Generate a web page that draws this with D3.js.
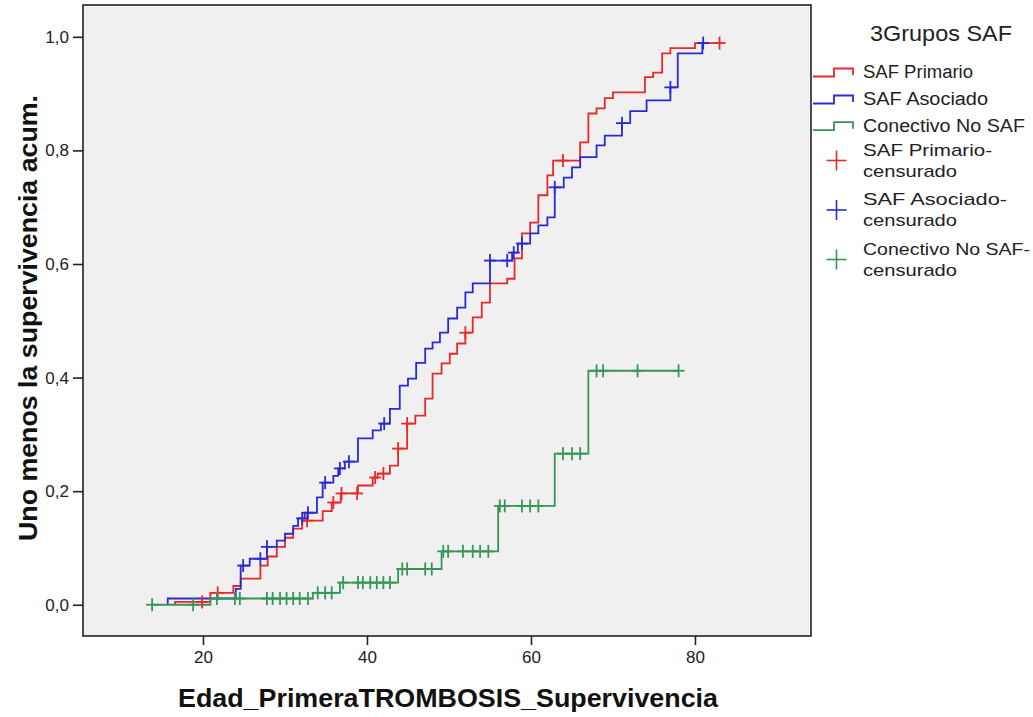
<!DOCTYPE html>
<html>
<head>
<meta charset="utf-8">
<script src="https://cdn.jsdelivr.net/npm/d3@7"></script>
<style>
  html, body { margin: 0; padding: 0; background: #ffffff; }
  svg { display: block; font-family: "Liberation Sans", Arial, sans-serif; }
</style>
</head>
<body>
<svg id="chart" width="1033" height="717"></svg>
<script>
// ---------------- DATA ----------------
const yTickValues = [0, 0.2, 0.4, 0.6, 0.8, 1.0];
const xTickValues = [20, 40, 60, 80];

const seriesNames = ["SAF Primario", "SAF Asociado", "Conectivo No SAF"];
const censorNames = ["SAF Primario-|censurado", "SAF Asociado-|censurado", "Conectivo No SAF-|censurado"];

// SAF Primario: event times and cumulative (1 - survival)
const primarioTimes  = [16.6, 20.9, 23.7, 24.6, 27.0, 27.9, 29.0, 30.0, 31.0, 32.1, 34.6, 35.7, 36.8, 38.9, 40.7, 41.3, 42.8, 43.8, 44.9, 45.9, 47.1, 48.0, 49.1, 50.1, 51.0, 52.0, 52.9, 54.0, 55.0, 57.1, 58.0, 58.9, 59.9, 60.9, 62.0, 62.7, 66.0, 67.0, 68.0, 69.0, 70.0, 73.9, 74.9, 76.0, 77.0, 80.0];
const primarioValues = [0.005, 0.021, 0.033, 0.046, 0.069, 0.085, 0.102, 0.118, 0.134, 0.148, 0.165, 0.180, 0.196, 0.210, 0.224, 0.231, 0.245, 0.275, 0.319, 0.333, 0.363, 0.407, 0.425, 0.442, 0.460, 0.479, 0.506, 0.532, 0.566, 0.574, 0.610, 0.654, 0.673, 0.721, 0.756, 0.782, 0.814, 0.865, 0.874, 0.892, 0.902, 0.929, 0.937, 0.971, 0.980, 0.989];
const primarioCensored = [19.9, 21.8, 32.7, 35.9, 36.9, 38.8, 41.0, 42.0, 43.8, 44.9, 52.0, 63.9, 83.0];

// SAF Asociado
const asociadoTimes  = [15.7, 24.0, 24.6, 25.7, 27.8, 29.0, 30.0, 31.0, 31.6, 32.4, 33.9, 34.6, 35.9, 36.5, 37.3, 38.9, 40.7, 41.7, 42.8, 44.0, 45.0, 46.0, 47.1, 48.0, 48.9, 49.9, 51.0, 52.0, 52.9, 55.0, 57.7, 58.4, 59.9, 60.9, 62.0, 62.9, 64.0, 65.0, 66.0, 68.0, 69.0, 71.1, 72.1, 74.1, 77.0, 77.9, 80.9];
const asociadoValues = [0.011, 0.028, 0.069, 0.081, 0.102, 0.113, 0.125, 0.139, 0.152, 0.162, 0.189, 0.215, 0.227, 0.240, 0.252, 0.293, 0.307, 0.319, 0.345, 0.386, 0.398, 0.426, 0.451, 0.462, 0.479, 0.504, 0.523, 0.550, 0.566, 0.606, 0.620, 0.636, 0.654, 0.668, 0.682, 0.735, 0.752, 0.770, 0.788, 0.809, 0.826, 0.848, 0.869, 0.888, 0.911, 0.971, 0.989];
const asociadoCensored = [24.9, 27.0, 27.8, 32.1, 32.8, 34.9, 36.7, 37.8, 42.1, 55.0, 57.1, 57.9, 58.9, 62.9, 71.1, 77.0, 81.0];

// Conectivo No SAF
const conectivoTimes  = [20.9, 33.4, 36.7, 43.8, 49.1, 56.0, 62.9, 67.0];
const conectivoValues = [0.011, 0.021, 0.039, 0.063, 0.094, 0.174, 0.266, 0.412];
const conectivoCensored = [13.8, 18.8, 21.7, 23.9, 24.5, 27.8, 28.5, 29.4, 30.2, 31.0, 31.8, 32.8, 34.0, 34.9, 35.7, 37.1, 38.9, 39.5, 40.4, 41.2, 42.0, 42.8, 44.3, 44.9, 47.1, 47.9, 49.3, 49.9, 51.7, 52.9, 53.8, 54.8, 56.2, 56.8, 58.9, 59.9, 60.9, 63.9, 65.0, 66.0, 68.0, 68.8, 73.0, 78.0];

const seriesColors = ["#e8292b", "#2a2ad4", "#38955a"];

// ---------------- LAYOUT ----------------
const svg = d3.select("#chart");
const plot = { left: 83, top: 5, right: 811, bottom: 636 };

const x = d3.scaleLinear().domain([5.37, 94.15]).range([plot.left, plot.right]);
const y = d3.scaleLinear().domain([-0.055, 1.056]).range([plot.bottom, plot.top]);

svg.append("rect")
  .attr("x", plot.left).attr("y", plot.top)
  .attr("width", plot.right - plot.left).attr("height", plot.bottom - plot.top)
  .attr("fill", "#f0f0f0");

svg.append("clipPath").attr("id", "clip").append("rect")
  .attr("x", plot.left).attr("y", plot.top)
  .attr("width", plot.right - plot.left).attr("height", plot.bottom - plot.top);

// ---------------- SERIES ----------------
const series = [
  { times: primarioTimes, values: primarioValues, censored: primarioCensored, color: seriesColors[0] },
  { times: asociadoTimes, values: asociadoValues, censored: asociadoCensored, color: seriesColors[1] },
  { times: conectivoTimes, values: conectivoValues, censored: conectivoCensored, color: seriesColors[2] }
];

function levelAt(s, t) {
  let v = 0;
  for (let i = 0; i < s.times.length; i++) { if (s.times[i] <= t + 1e-9) v = s.values[i]; }
  return v;
}

const line = d3.line().x(d => x(d[0])).y(d => y(d[1])).curve(d3.curveStepAfter);

const gLines = svg.append("g").attr("clip-path", "url(#clip)");
series.forEach(s => {
  const start = Math.min(s.times[0], d3.min(s.censored));
  const end = Math.max(s.times[s.times.length - 1], d3.max(s.censored));
  const pts = [[start, 0]];
  s.times.forEach((t, i) => pts.push([t, s.values[i]]));
  pts.push([end, s.values[s.values.length - 1]]);
  gLines.append("path")
    .attr("d", line(pts))
    .attr("fill", "none")
    .attr("stroke", s.color)
    .attr("stroke-width", 1.8);
});

// censor marks
series.forEach(s => {
  const g = gLines.append("g").attr("stroke", s.color).attr("stroke-width", 1.8);
  s.censored.forEach(t => {
    const cx = x(t), cy = y(levelAt(s, t));
    g.append("line").attr("x1", cx - 6).attr("x2", cx + 6).attr("y1", cy).attr("y2", cy);
    g.append("line").attr("x1", cx).attr("x2", cx).attr("y1", cy - 6.5).attr("y2", cy + 6.5);
  });
});

// frame
svg.append("rect")
  .attr("x", plot.left).attr("y", plot.top)
  .attr("width", plot.right - plot.left).attr("height", plot.bottom - plot.top)
  .attr("fill", "none").attr("stroke", "#222").attr("stroke-width", 1.6);

// ---------------- AXES ----------------
const fmt = d => d3.format(".1f")(d).replace(".", ",");
const yAxis = svg.append("g")
  .attr("transform", `translate(${plot.left},0)`)
  .call(d3.axisLeft(y).tickValues(yTickValues).tickFormat(fmt).tickSize(10).tickPadding(4));
const xAxis = svg.append("g")
  .attr("transform", `translate(0,${plot.bottom})`)
  .call(d3.axisBottom(x).tickValues(xTickValues).tickFormat(d3.format("d")).tickSize(9).tickPadding(6));
[yAxis, xAxis].forEach(a => {
  a.select(".domain").remove();
  a.selectAll(".tick line").attr("stroke", "#222").attr("stroke-width", 1.6);
  a.selectAll(".tick text").attr("fill", "#222").style("font-size", "17px")
    .style("font-family", "'Liberation Sans', Arial, sans-serif");
});

// titles
svg.append("text")
  .attr("x", 448).attr("y", 707)
  .attr("text-anchor", "middle")
  .attr("textLength", 540).attr("lengthAdjust", "spacingAndGlyphs")
  .style("font-size", "26px").style("font-weight", "bold").attr("fill", "#111")
  .text("Edad_PrimeraTROMBOSIS_Supervivencia");

svg.append("text")
  .attr("transform", "translate(37,318) rotate(-90)")
  .attr("text-anchor", "middle")
  .attr("textLength", 446).attr("lengthAdjust", "spacingAndGlyphs")
  .style("font-size", "26px").style("font-weight", "bold").attr("fill", "#111")
  .text("Uno menos la supervivencia acum.");

// ---------------- LEGEND ----------------
const legend = svg.append("g");
legend.append("text")
  .attr("x", 870).attr("y", 41)
  .attr("textLength", 142).attr("lengthAdjust", "spacingAndGlyphs")
  .style("font-size", "22px").attr("fill", "#222")
  .text("3Grupos SAF");

const lineBaselines = [78, 105, 131.7];
const lineWidths = [110, 125, 162];
seriesNames.forEach((name, i) => {
  const b = lineBaselines[i];
  legend.append("path")
    .attr("d", `M813,${b - 1.5} H834 V${b - 9.5} H853 V${b - 3}`)
    .attr("fill", "none").attr("stroke", seriesColors[i]).attr("stroke-width", 1.8);
  legend.append("text")
    .attr("x", 863).attr("y", b)
    .attr("textLength", lineWidths[i]).attr("lengthAdjust", "spacingAndGlyphs")
    .style("font-size", "18px").attr("fill", "#222")
    .text(name);
});

const censorBaselines = [155.5, 205, 254.5];
const censorWidths = [129, 144, 167];
censorNames.forEach((name, i) => {
  const b = censorBaselines[i];
  const parts = name.split("|");
  const cy = b + 5, cx = 836.5;
  legend.append("line").attr("x1", cx - 10).attr("x2", cx + 10).attr("y1", cy).attr("y2", cy)
    .attr("stroke", seriesColors[i]).attr("stroke-width", 1.6);
  legend.append("line").attr("x1", cx).attr("x2", cx).attr("y1", cy - 10).attr("y2", cy + 10)
    .attr("stroke", seriesColors[i]).attr("stroke-width", 1.6);
  legend.append("text")
    .attr("x", 863).attr("y", b)
    .attr("textLength", censorWidths[i]).attr("lengthAdjust", "spacingAndGlyphs")
    .style("font-size", "17px").attr("fill", "#222")
    .text(parts[0]);
  legend.append("text")
    .attr("x", 863).attr("y", b + 21)
    .attr("textLength", 94).attr("lengthAdjust", "spacingAndGlyphs")
    .style("font-size", "17px").attr("fill", "#222")
    .text(parts[1]);
});
</script>
</body>
</html>
